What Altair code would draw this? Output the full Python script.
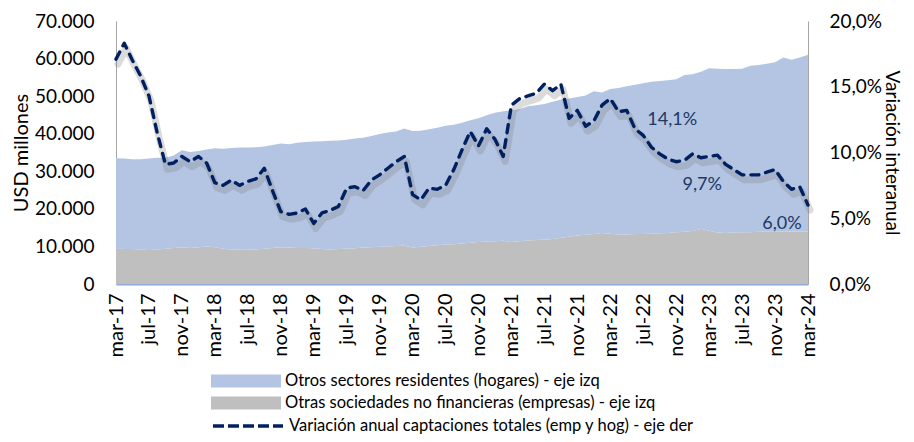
import altair as alt
import pandas as pd

FONT = "Lato"

MESES = ["ene", "feb", "mar", "abr", "may", "jun", "jul", "ago", "sep", "oct", "nov", "dic"]
N_MESES = 85  # mar-17 .. mar-24
periodos = [f"{MESES[(2 + k) % 12]}-{17 + (2 + k) // 12}" for k in range(N_MESES)]
ticks_x = periodos[::4]

SERIE_HOG = "Otros sectores residentes (hogares) - eje izq"
SERIE_EMP = "Otras sociedades no financieras (empresas) - eje izq"
SERIE_VAR = "Variación anual captaciones totales (emp y hog) - eje der"

# USD millones
empresas = [
    9400, 9300, 9300, 9200, 9300, 9200, 9400, 9600, 9700, 9600, 9800, 10000,
    9800, 9400, 9200, 9100, 9100, 9200, 9400, 9600, 9800, 9700, 9600, 9600,
    9500, 9300, 9200, 9300, 9400, 9500, 9700, 9800, 9900, 10000, 10100, 10200,
    9700, 9900, 10100, 10300, 10500, 10600, 10800, 11000, 11200, 11300, 11400, 11500,
    11200, 11400, 11600, 11700, 11800, 12000, 12300, 12600, 12900, 13100, 13300, 13600,
    13400, 13200, 13200, 13300, 13300, 13400, 13500, 13600, 13800, 13900, 14100, 14700,
    14200, 13700, 13600, 13700, 13800, 13800, 13900, 13900, 13900, 14000, 14000, 14000, 14000,
]
hogares = [
    24100, 24100, 23900, 24000, 24100, 24400, 24200, 24600, 25900, 25500, 25600, 25800,
    26300, 26600, 27000, 27200, 27200, 27200, 27200, 27400, 27600, 27500, 28000, 28200,
    28400, 28700, 28900, 28900, 29000, 29200, 29200, 29600, 30000, 30300, 30500, 31200,
    31000, 30900, 31100, 31300, 31600, 31800, 32100, 32600, 32900, 33600, 34200, 34500,
    35000, 35200, 35700, 35900, 36100, 36500, 36800, 36800, 36900, 37100, 38000, 37400,
    38500, 39000, 39400, 39700, 40100, 40400, 40500, 40600, 40700, 41700, 41700, 41800,
    43200, 43600, 43600, 43500, 43500, 44300, 44400, 44700, 45100, 46300, 45700, 46300, 47000,
]
# Variación interanual (%)
variacion = [
    17.1, 18.3, 17.0, 15.8, 14.3, 11.5, 9.1, 9.2, 9.7, 9.3, 9.7, 9.2,
    7.7, 7.5, 7.9, 7.5, 7.8, 8.0, 8.8, 7.1, 5.5, 5.3, 5.4, 5.7,
    4.6, 5.4, 5.6, 5.9, 7.3, 7.4, 7.1, 7.9, 8.3, 8.8, 9.3, 9.7,
    6.8, 6.4, 7.3, 7.2, 7.5, 8.7, 10.2, 11.6, 10.5, 11.8, 11.0, 9.7,
    13.6, 14.1, 14.3, 14.5, 15.2, 14.7, 15.2, 12.6, 13.2, 12.0, 12.4, 13.6,
    14.1, 13.1, 13.2, 11.8, 11.3, 10.4, 9.9, 9.5, 9.3, 9.4, 9.9, 9.6,
    9.7, 9.8, 9.1, 8.7, 8.3, 8.3, 8.3, 8.5, 8.7, 7.8, 7.2, 7.4, 6.0,
]

etiq_periodo = ["mar-22", "mar-23", "mar-24"]
etiq_texto = ["14,1%", "9,7%", "6,0%"]
etiq_valor = [14.1, 9.7, 6.0]
etiq_offset = [(62, 21), (-7, 29), (-26, 19)]

rows = []
for p, e, h in zip(periodos, empresas, hogares):
    rows.append({"periodo": p, "serie": SERIE_EMP, "valor": e, "orden": 0})
    rows.append({"periodo": p, "serie": SERIE_HOG, "valor": h, "orden": 1})
df_area = pd.DataFrame(rows)
df_line = pd.DataFrame({"periodo": periodos, "var": variacion, "serie": SERIE_VAR})

x_enc = alt.X(
    "periodo:O",
    sort=periodos,
    scale=alt.Scale(type="point", padding=0),
    title=None,
    axis=alt.Axis(
        values=ticks_x, labelAngle=270, ticks=False, labelPadding=9,
        labelFontSize=20, labelFont=FONT, labelColor="#000000",
        domainColor="#8FAADC", domainWidth=2,
    ),
)

area = alt.Chart(df_area).mark_area(opacity=1).encode(
    x=x_enc,
    y=alt.Y(
        "valor:Q", stack="zero",
        scale=alt.Scale(domain=[0, 70000], nice=False),
        axis=alt.Axis(
            values=list(range(0, 70001, 10000)),
            labelExpr="replace(format(datum.value, ','), ',', '.')",
            ticks=False, grid=False, labelPadding=22, labelFontSize=19,
            labelFont=FONT, labelColor="#000000", domainColor="#A6A6A6",
            title="USD millones", titleFontSize=20, titleFont=FONT,
            titleFontWeight="normal", titleColor="#000000", titlePadding=3,
        ),
    ),
    fill=alt.Fill(
        "serie:N",
        scale=alt.Scale(domain=[SERIE_HOG, SERIE_EMP], range=["#B4C5E3", "#BFBFBF"]),
        legend=alt.Legend(
            title=None, orient="none", legendX=120, legendY=350,
            symbolType="M-3.5,-0.66H3.5V0.66H-3.5Z", symbolSize=400,
            symbolStrokeWidth=0, symbolOpacity=1,
            labelFontSize=16.5, labelFont=FONT, labelColor="#000000",
            labelOffset=29, rowPadding=3, labelLimit=0,
        ),
    ),
    order=alt.Order("orden:Q"),
)

axis_der = alt.Axis(
    orient="right", values=[0, 5, 10, 15, 20],
    labelExpr="replace(format(datum.value, '.1f'), '.', ',') + '%'",
    ticks=False, grid=False, labelPadding=21, labelFontSize=19,
    labelFont=FONT, labelColor="#000000", domainColor="#A6A6A6",
    title="Variación interanual", titleFontSize=19, titleFont=FONT,
    titleFontWeight="normal", titleColor="#000000", titlePadding=0,
)
y_der = alt.Y("var:Q", scale=alt.Scale(domain=[0, 20], nice=False), axis=axis_der)

sombra = alt.Chart(df_line).mark_line(
    color="#7F7F7F", strokeWidth=7, opacity=0.28, xOffset=2, yOffset=5,
    strokeJoin="round", strokeCap="round",
).encode(x=x_enc, y=y_der)

linea = alt.Chart(df_line).mark_line(
    strokeWidth=3.4, strokeDash=[8, 7], strokeCap="round", strokeJoin="round",
).encode(
    x=x_enc, y=y_der,
    stroke=alt.Stroke(
        "serie:N",
        scale=alt.Scale(domain=[SERIE_VAR], range=["#002060"]),
        legend=alt.Legend(
            title=None, orient="none", legendX=95, legendY=368,
            symbolType="stroke", symbolSize=4900, symbolStrokeWidth=3.4,
            symbolDash=[11, 4], labelFontSize=16.5, labelFont=FONT,
            labelColor="#000000", labelOffset=4, labelLimit=0,
        ),
    ),
)

textos = []
for per, txt, val, (ddx, ddy) in zip(etiq_periodo, etiq_texto, etiq_valor, etiq_offset):
    dft = pd.DataFrame({"periodo": [per], "var": [val], "txt": [txt]})
    textos.append(
        alt.Chart(dft).mark_text(
            dx=ddx, dy=ddy, fontSize=18, font=FONT, color="#203864"
        ).encode(x=x_enc, y=y_der, text="txt:N")
    )

derecha = alt.layer(sombra, linea, *textos)

chart = alt.layer(area, derecha).resolve_scale(
    y="independent", fill="independent", stroke="independent"
).properties(
    width=692, height=263,
    autosize=alt.AutoSizeParams(type="none"),
    padding={"left": 108, "top": 13, "right": 98, "bottom": 150},
).configure_view(stroke=None)

chart.save("out.html", embed_options={"renderer": "svg", "actions": False})
